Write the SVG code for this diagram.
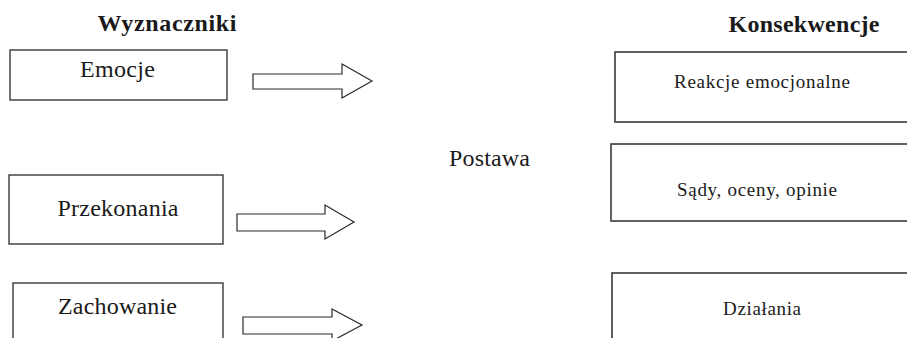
<svg xmlns="http://www.w3.org/2000/svg" width="907" height="338" viewBox="0 0 907 338">
  <style>
    .box { fill: #ffffff; stroke: #2a2a2a; stroke-width: 1.3; }
    .rbox { fill: #ffffff; stroke: #3a3a3a; stroke-width: 1.6; }
    .arrow { fill: #ffffff; stroke: #2a2a2a; stroke-width: 1.2; stroke-linejoin: miter; }
    .t { font-family: "Liberation Serif", "Times New Roman", serif; fill: #1a1a1a; text-anchor: middle; }
    .title { font-size: 24px; font-weight: bold; }
    .lbl { font-size: 24px; }
    .small { font-size: 19px; }
  </style>
  <rect width="907" height="338" fill="#ffffff"/>

  <g id="title-wyznaczniki">
    <text class="t title" x="167" y="31" textLength="139" lengthAdjust="spacing">Wyznaczniki</text>
  </g>
  <g id="title-konsekwencje">
    <text class="t title" x="804" y="32" textLength="151" lengthAdjust="spacing">Konsekwencje</text>
  </g>

  <g id="node-emocje">
    <rect class="box" x="10" y="50" width="217" height="50"/>
    <text class="t lbl" x="117.5" y="77" textLength="75" lengthAdjust="spacing">Emocje</text>
  </g>
  <g id="node-przekonania">
    <rect class="box" x="9" y="175" width="214" height="69"/>
    <text class="t lbl" x="118" y="216" textLength="121" lengthAdjust="spacing">Przekonania</text>
  </g>
  <g id="node-zachowanie">
    <rect class="box" x="13" y="283" width="210" height="70"/>
    <text class="t lbl" x="117.5" y="314" textLength="119" lengthAdjust="spacing">Zachowanie</text>
  </g>

  <g id="node-postawa">
    <text class="t lbl" x="489.5" y="166" textLength="81" lengthAdjust="spacing">Postawa</text>
  </g>

  <g id="node-reakcje">
    <rect class="rbox" x="615" y="52" width="300" height="70"/>
    <text class="t small" x="762" y="88" textLength="176" lengthAdjust="spacing">Reakcje emocjonalne</text>
  </g>
  <g id="node-sady">
    <rect class="rbox" x="611" y="144" width="304" height="77"/>
    <text class="t small" x="757" y="196" textLength="160" lengthAdjust="spacing">Sądy, oceny, opinie</text>
  </g>
  <g id="node-dzialania">
    <rect class="rbox" x="612" y="273" width="303" height="80"/>
    <text class="t small" x="762" y="315" textLength="78" lengthAdjust="spacing">Działania</text>
  </g>

  <g id="connectors">
    <polygon class="arrow" points="253,74 342,74 342,64 372,81 342,98 342,89 253,89"/>
    <polygon class="arrow" points="237,214 325,214 325,205 354,222 325,239 325,231 237,231"/>
    <polygon class="arrow" points="243,317 332,317 332,309 362,325 332,341 332,334 243,334"/>
  </g>
</svg>
